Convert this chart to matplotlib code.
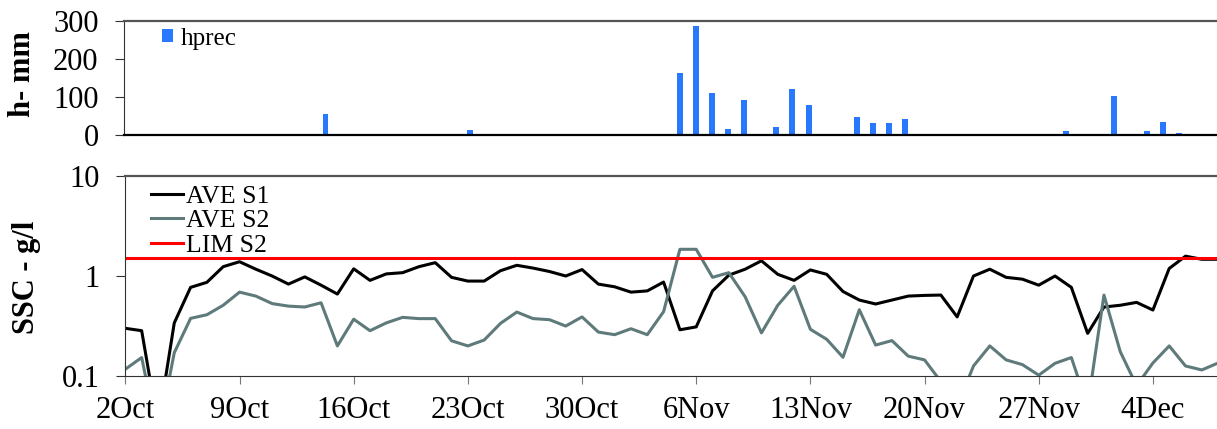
import numpy as np
import matplotlib.pyplot as plt
from matplotlib.ticker import NullLocator

plt.rcParams['font.family'] = ['Liberation Serif', 'DejaVu Serif']

# day index from 2 Oct
days = np.arange(68)
tick_days = [0, 7, 14, 21, 28, 35, 42, 49, 56, 63]
tick_labels = ['2Oct', '9Oct', '16Oct', '23Oct', '30Oct',
               '6Nov', '13Nov', '20Nov', '27Nov', '4Dec']

# daily precipitation (mm)
hprec = [0, 0, 0, 0, 0, 0, 0, 3, 3, 0,
         2, 0, 55, 1, 0, 0, 0, 0, 0, 0,
         3, 12, 0, 0, 0, 0, 0, 0, 0, 0,
         0, 0, 0, 0, 162, 286, 110, 15, 91, 3,
         21, 121, 79, 2, 0, 46, 31, 32, 41, 0,
         0, 0, 0, 0, 0, 0, 0, 0, 10, 1,
         1, 103, 3, 10, 33, 4, 0, 0]

# suspended sediment concentration (g/l)
ave_s1 = [0.30, 0.284, 0.032, 0.34, 0.77, 0.865, 1.24, 1.39, 1.17, 1.0,
          0.83, 0.98, 0.81, 0.66, 1.18, 0.905, 1.05, 1.08, 1.24, 1.36,
          0.97, 0.89, 0.89, 1.13, 1.28, 1.20, 1.11, 1.0, 1.16, 0.83,
          0.78, 0.69, 0.71, 0.87, 0.29, 0.31, 0.71, 1.02, 1.17, 1.42,
          1.04, 0.905, 1.15, 1.04, 0.70, 0.575, 0.525, 0.575, 0.63, 0.64,
          0.645, 0.39, 1.0, 1.17, 0.97, 0.93, 0.81, 1.0, 0.77, 0.267,
          0.49, 0.51, 0.545, 0.457, 1.19, 1.58, 1.47, 1.47]
ave_s2 = [0.117, 0.153, 0.025, 0.171, 0.377, 0.41, 0.51, 0.69, 0.63, 0.53,
          0.50, 0.49, 0.54, 0.20, 0.37, 0.284, 0.34, 0.386, 0.375, 0.375,
          0.225, 0.20, 0.229, 0.336, 0.436, 0.375, 0.366, 0.316, 0.39, 0.275,
          0.259, 0.297, 0.259, 0.44, 1.85, 1.85, 0.97, 1.08, 0.62, 0.27,
          0.51, 0.79, 0.293, 0.233, 0.154, 0.46, 0.204, 0.226, 0.158, 0.145,
          0.088, 0.05, 0.126, 0.20, 0.145, 0.13, 0.102, 0.134, 0.153, 0.05,
          0.645, 0.175, 0.08, 0.135, 0.20, 0.126, 0.115, 0.135]
lim_s2 = 1.5

fig = plt.figure(figsize=(12.17, 4.29), dpi=100)
ax1 = fig.add_axes([0.1021, 0.686, 0.8979, 0.2657])
ax2 = fig.add_axes([0.1030, 0.1235, 0.8970, 0.4662])

# top: rainfall bars
ax1.bar(days, hprec, width=0.37, color='#2979ff', label='hprec')
ax1.set_xlim(-0.5, 67.37)
ax1.set_ylim(0, 300)
ax1.set_yticks([0, 100, 200, 300])
ax1.set_xticks([])
ax1.spines['right'].set_visible(False)
ax1.spines['top'].set_color('#555555')
ax1.spines['top'].set_linewidth(1.6)
ax1.spines['bottom'].set_linewidth(1.6)
ax1.spines['left'].set_color('#333333')
ax1.tick_params(axis='y', direction='out', length=6.5, pad=12, labelsize=22,
                color='#333333')
ax1.set_ylabel('h- mm', fontsize=22, fontweight='bold')
ax1.yaxis.set_label_coords(-0.0933, 0.532)
ax1.yaxis.label.set_verticalalignment('center')
ax1.legend(loc='upper left', bbox_to_anchor=(0.0345, 0.94), frameon=False,
           fontsize=18, handlelength=0.45, handleheight=0.45,
           handletextpad=0.28, borderpad=0, borderaxespad=0)

# bottom: SSC lines
ax2.plot(days, ave_s1, color='black', lw=2.2, label='AVE S1')
ax2.plot(days, ave_s2, color='#5f7a7a', lw=2.2, label='AVE S2')
ax2.axhline(lim_s2, color='#ff0000', lw=2.2, label='LIM S2')
ax2.set_yscale('log')
ax2.set_ylim(0.1, 10)
ax2.set_yticks([0.1, 1, 10])
ax2.set_yticklabels(['0.1', '1', '10'])
ax2.yaxis.set_minor_locator(NullLocator())
ax2.set_xlim(0, 66.93)
ax2.set_xticks(tick_days)
ax2.set_xticklabels(tick_labels)
ax2.spines['right'].set_visible(False)
ax2.spines['top'].set_color('#555555')
ax2.spines['top'].set_linewidth(1.6)
ax2.spines['bottom'].set_color('#333333')
ax2.spines['left'].set_color('#333333')
ax2.tick_params(axis='y', direction='out', length=6.5, pad=12, labelsize=22,
                color='#333333')
ax2.tick_params(axis='x', direction='out', length=6, pad=8.5, labelsize=22,
                color='#777777')
ax2.set_ylabel('SSC - g/l', fontsize=22, fontweight='bold')
ax2.yaxis.set_label_coords(-0.0903, 0.4925)
ax2.yaxis.label.set_verticalalignment('center')
ax2.legend(loc='upper left', bbox_to_anchor=(0.0233, 0.955), frameon=False,
           fontsize=18.5, handlelength=1.25, handletextpad=0.13,
           labelspacing=0.05, borderpad=0, borderaxespad=0)

fig.savefig('out.png', dpi=100)
